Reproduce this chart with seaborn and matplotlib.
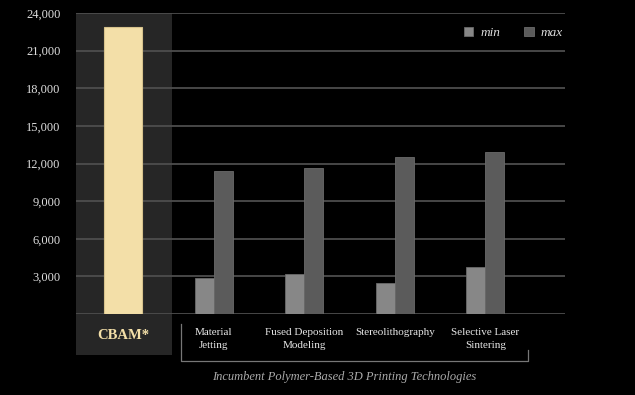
import pandas as pd
import matplotlib.pyplot as plt
import seaborn as sns
from matplotlib.patches import Rectangle

# Data
categories = ['CBAM*', 'Material\nJetting', 'Fused Deposition\nModeling',
              'Stereolithography', 'Selective Laser\nSintering']
cbam_value = [22900]
min_values = [2850, 3190, 2450, 3720]
max_values = [11430, 11670, 12540, 12940]
y_ticks = [0, 3000, 6000, 9000, 12000, 15000, 18000, 21000, 24000]

df_cbam = pd.DataFrame({'tech': categories[:1], 'value': cbam_value})
df_inc = pd.DataFrame({
    'tech': categories[1:] * 2,
    'value': min_values + max_values,
    'range': ['min'] * 4 + ['max'] * 4,
})

plt.rcParams['font.family'] = ['Liberation Serif', 'DejaVu Serif']

fig = plt.figure(figsize=(6.35, 3.95), dpi=100, facecolor='black')
ax = fig.add_axes([0.1197, 0.205, 0.770, 0.762])
ax.set_facecolor('black')

# shaded CBAM column (in the plot and below it)
ax.axvspan(-0.52, 0.54, color='#262626', zorder=0, lw=0)
ax.add_patch(Rectangle((-0.52, -0.136), 1.06, 0.136, transform=ax.get_xaxis_transform(),
                       color='#262626', clip_on=False, zorder=0, lw=0))

sns.barplot(data=df_cbam, x='tech', y='value', order=categories, color='#f3dfa8',
            saturation=1, width=0.42, errorbar=None, edgecolor='#d6c28c', linewidth=0.8, ax=ax)
sns.barplot(data=df_inc, x='tech', y='value', hue='range', order=categories,
            hue_order=['min', 'max'], palette={'min': '#878787', 'max': '#5b5b5b'},
            saturation=1, width=0.42, errorbar=None, edgecolor='#6a6a6a', linewidth=0.6, ax=ax)

ax.set_xlim(-0.52, 4.88)
ax.set_ylim(0, 24000)
ax.set_yticks(y_ticks)
ax.set_yticklabels(['' if v == 0 else f'{v:,}' for v in y_ticks])
ax.yaxis.grid(True, color='#4d4d4d', lw=1.3)
ax.set_axisbelow(True)
for s in ax.spines.values():
    s.set_visible(False)
ax.set_xlabel('')
ax.set_ylabel('')

ax.set_xticks(range(len(categories)))
ax.set_xticklabels([''] + categories[1:], fontsize=8, color='#e6e6e6', linespacing=1.65)
ax.tick_params(axis='x', length=0, pad=10)
ax.tick_params(axis='y', length=0, pad=11, labelsize=9, labelcolor='#dddddd')

ax.text(0, -0.07, 'CBAM*', transform=ax.get_xaxis_transform(), ha='center', va='center',
        fontsize=10.5, fontweight='bold', color='#f3dfa8')

# bracket under incumbent technologies
tr = ax.get_xaxis_transform()
ax.plot([0.639, 0.639, 4.469, 4.469], [-0.033, -0.156, -0.156, -0.12], color='#777777',
        lw=0.9, transform=tr, clip_on=False)
ax.text(2.438, -0.209, 'Incumbent Polymer-Based 3D Printing Technologies', transform=tr,
        ha='center', va='center', fontsize=9, style='italic', color='#aaaaaa')

handles, labels = ax.get_legend_handles_labels()
ax.legend(handles, labels, loc='center right', bbox_to_anchor=(563 / 635, 1 - 33 / 395),
          bbox_transform=fig.transFigure, ncol=2, frameon=False, borderpad=0,
          borderaxespad=0, handlelength=0.75, handleheight=0.75, handletextpad=0.55,
          columnspacing=1.75, labelcolor='#dddddd',
          prop={'family': 'Liberation Serif', 'style': 'italic', 'size': 9.5})

fig.savefig('out.png', dpi=100, facecolor='black')
